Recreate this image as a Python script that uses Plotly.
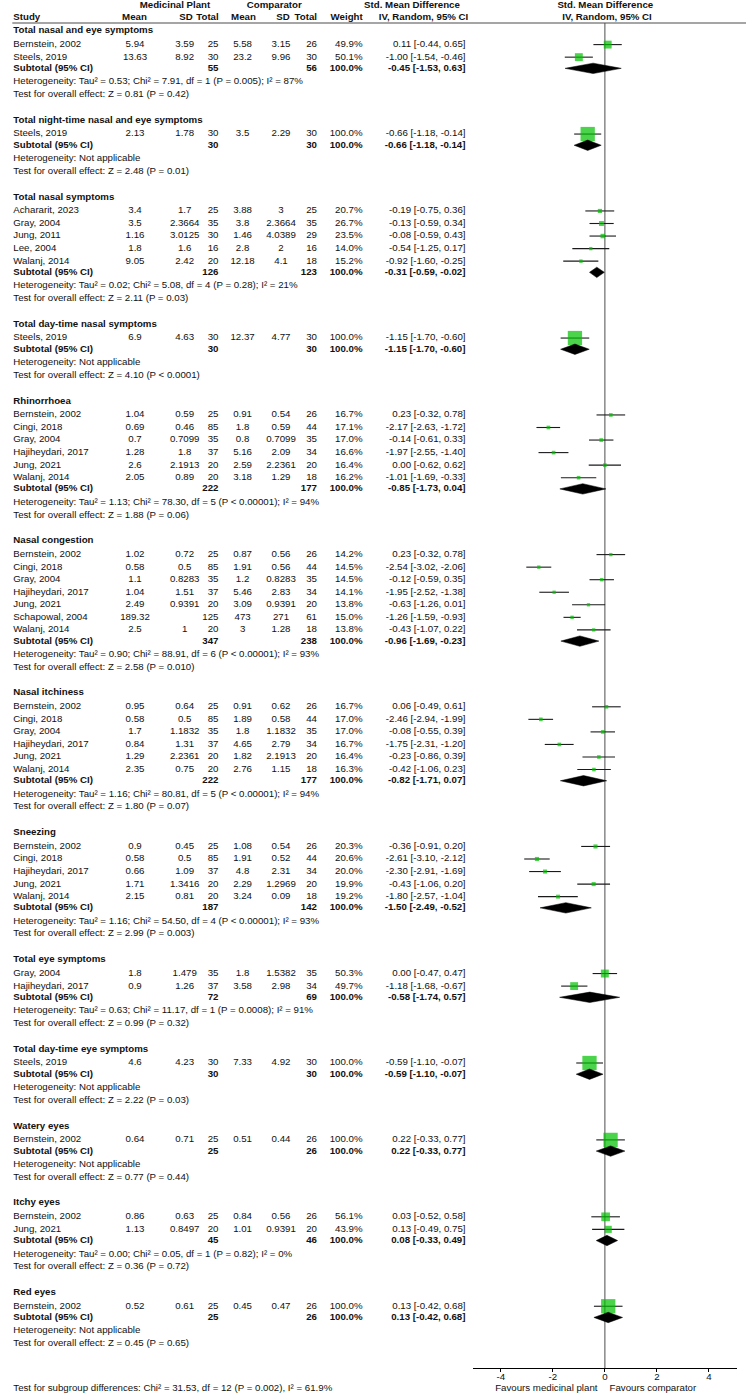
import plotly.graph_objects as go

# ------------------------------------------------------------------ data
group_titles = [
    "Total nasal and eye symptoms",
    "Total night-time nasal and eye symptoms",
    "Total nasal symptoms",
    "Total day-time nasal symptoms",
    "Rhinorrhoea",
    "Nasal congestion",
    "Nasal itchiness",
    "Sneezing",
    "Total eye symptoms",
    "Total day-time eye symptoms",
    "Watery eyes",
    "Itchy eyes",
    "Red eyes",
]

study_group = [0, 0,
               1,
               2, 2, 2, 2, 2,
               3,
               4, 4, 4, 4, 4, 4,
               5, 5, 5, 5, 5, 5, 5,
               6, 6, 6, 6, 6, 6,
               7, 7, 7, 7, 7,
               8, 8,
               9,
               10,
               11, 11,
               12]

study_names = [
    "Bernstein, 2002", "Steels, 2019",
    "Steels, 2019",
    "Achararit, 2023", "Gray, 2004", "Jung, 2011", "Lee, 2004", "Walanj, 2014",
    "Steels, 2019",
    "Bernstein, 2002", "Cingi, 2018", "Gray, 2004", "Hajiheydari, 2017", "Jung, 2021", "Walanj, 2014",
    "Bernstein, 2002", "Cingi, 2018", "Gray, 2004", "Hajiheydari, 2017", "Jung, 2021", "Schapowal, 2004", "Walanj, 2014",
    "Bernstein, 2002", "Cingi, 2018", "Gray, 2004", "Hajiheydari, 2017", "Jung, 2021", "Walanj, 2014",
    "Bernstein, 2002", "Cingi, 2018", "Hajiheydari, 2017", "Jung, 2021", "Walanj, 2014",
    "Gray, 2004", "Hajiheydari, 2017",
    "Steels, 2019",
    "Bernstein, 2002",
    "Bernstein, 2002", "Jung, 2021",
    "Bernstein, 2002",
]

mp_mean = ["5.94", "13.63", "2.13", "3.4", "3.5", "1.16", "1.8", "9.05", "6.9",
           "1.04", "0.69", "0.7", "1.28", "2.6", "2.05",
           "1.02", "0.58", "1.1", "1.04", "2.49", "189.32", "2.5",
           "0.95", "0.58", "1.7", "0.84", "1.29", "2.35",
           "0.9", "0.58", "0.66", "1.71", "2.15",
           "1.8", "0.9", "4.6", "0.64", "0.86", "1.13", "0.52"]
mp_sd = ["3.59", "8.92", "1.78", "1.7", "2.3664", "3.0125", "1.6", "2.42", "4.63",
         "0.59", "0.46", "0.7099", "1.8", "2.1913", "0.89",
         "0.72", "0.5", "0.8283", "1.51", "0.9391", "", "1",
         "0.64", "0.5", "1.1832", "1.31", "2.2361", "0.75",
         "0.45", "0.5", "1.09", "1.3416", "0.81",
         "1.479", "1.26", "4.23", "0.71", "0.63", "0.8497", "0.61"]
mp_total = [25, 30, 30, 25, 35, 30, 16, 20, 30,
            25, 85, 35, 37, 20, 20,
            25, 85, 35, 37, 20, 125, 20,
            25, 85, 35, 37, 20, 20,
            25, 85, 37, 20, 20,
            35, 37, 30, 25, 25, 20, 25]
cmp_mean = ["5.58", "23.2", "3.5", "3.88", "3.8", "1.46", "2.8", "12.18", "12.37",
            "0.91", "1.8", "0.8", "5.16", "2.59", "3.18",
            "0.87", "1.91", "1.2", "5.46", "3.09", "473", "3",
            "0.91", "1.89", "1.8", "4.65", "1.82", "2.76",
            "1.08", "1.91", "4.8", "2.29", "3.24",
            "1.8", "3.58", "7.33", "0.51", "0.84", "1.01", "0.45"]
cmp_sd = ["3.15", "9.96", "2.29", "3", "2.3664", "4.0389", "2", "4.1", "4.77",
          "0.54", "0.59", "0.7099", "2.09", "2.2361", "1.29",
          "0.56", "0.56", "0.8283", "2.83", "0.9391", "271", "1.28",
          "0.62", "0.58", "1.1832", "2.79", "2.1913", "1.15",
          "0.54", "0.52", "2.31", "1.2969", "0.09",
          "1.5382", "2.98", "4.92", "0.44", "0.56", "0.9391", "0.47"]
cmp_total = [26, 30, 30, 25, 35, 29, 16, 18, 30,
             26, 44, 35, 34, 20, 18,
             26, 44, 35, 34, 20, 61, 18,
             26, 44, 35, 34, 20, 18,
             26, 44, 34, 20, 18,
             35, 34, 30, 26, 26, 20, 26]
weight_pct = [49.9, 50.1, 100.0, 20.7, 26.7, 23.5, 14.0, 15.2, 100.0,
              16.7, 17.1, 17.0, 16.6, 16.4, 16.2,
              14.2, 14.5, 14.5, 14.1, 13.8, 15.0, 13.8,
              16.7, 17.0, 17.0, 16.7, 16.4, 16.3,
              20.3, 20.6, 20.0, 19.9, 19.2,
              50.3, 49.7, 100.0, 100.0, 56.1, 43.9, 100.0]
smd = [0.11, -1.00, -0.66, -0.19, -0.13, -0.08, -0.54, -0.92, -1.15,
       0.23, -2.17, -0.14, -1.97, 0.00, -1.01,
       0.23, -2.54, -0.12, -1.95, -0.63, -1.26, -0.43,
       0.06, -2.46, -0.08, -1.75, -0.23, -0.42,
       -0.36, -2.61, -2.30, -0.43, -1.80,
       0.00, -1.18, -0.59, 0.22, 0.03, 0.13, 0.13]
ci_low = [-0.44, -1.54, -1.18, -0.75, -0.59, -0.59, -1.25, -1.60, -1.70,
          -0.32, -2.63, -0.61, -2.55, -0.62, -1.69,
          -0.32, -3.02, -0.59, -2.52, -1.26, -1.59, -1.07,
          -0.49, -2.94, -0.55, -2.31, -0.86, -1.06,
          -0.91, -3.10, -2.91, -1.06, -2.57,
          -0.47, -1.68, -1.10, -0.33, -0.52, -0.49, -0.42]
ci_high = [0.65, -0.46, -0.14, 0.36, 0.34, 0.43, 0.17, -0.25, -0.60,
           0.78, -1.72, 0.33, -1.40, 0.62, -0.33,
           0.78, -2.06, 0.35, -1.38, 0.01, -0.93, 0.22,
           0.61, -1.99, 0.39, -1.20, 0.39, 0.23,
           0.20, -2.12, -1.69, 0.20, -1.04,
           0.47, -0.67, -0.07, 0.77, 0.58, 0.75, 0.68]

sub_mp_total = [55, 30, 126, 30, 222, 347, 222, 187, 72, 30, 25, 45, 25]
sub_cmp_total = [56, 30, 123, 30, 177, 238, 177, 142, 69, 30, 26, 46, 26]
sub_smd = [-0.45, -0.66, -0.31, -1.15, -0.85, -0.96, -0.82, -1.50, -0.58, -0.59, 0.22, 0.08, 0.13]
sub_low = [-1.53, -1.18, -0.59, -1.70, -1.73, -1.69, -1.71, -2.49, -1.74, -1.10, -0.33, -0.33, -0.42]
sub_high = [0.63, -0.14, -0.02, -0.60, 0.04, -0.23, 0.07, -0.52, 0.57, -0.07, 0.77, 0.49, 0.68]

het_tau2 = ["0.53", None, "0.02", None, "1.13", "0.90", "1.16", "1.16", "0.63", None, None, "0.00", None]
het_chi2 = ["7.91", None, "5.08", None, "78.30", "88.91", "80.81", "54.50", "11.17", None, None, "0.05", None]
het_df = [1, None, 4, None, 5, 6, 5, 4, 1, None, None, 1, None]
het_p = ["P = 0.005", None, "P = 0.28", None, "P < 0.00001", "P < 0.00001", "P < 0.00001",
         "P < 0.00001", "P = 0.0008", None, None, "P = 0.82", None]
het_i2 = ["87%", None, "21%", None, "94%", "93%", "94%", "93%", "91%", None, None, "0%", None]
overall_z = ["0.81", "2.48", "2.11", "4.10", "1.88", "2.58", "1.80", "2.99", "0.99", "2.22", "0.77", "0.36", "0.45"]
overall_p = ["P = 0.42", "P = 0.01", "P = 0.03", "P < 0.0001", "P = 0.06", "P = 0.010", "P = 0.07",
             "P = 0.003", "P = 0.32", "P = 0.03", "P = 0.44", "P = 0.72", "P = 0.65"]
subgroup_test = "Test for subgroup differences: Chi² = 31.53, df = 12 (P = 0.002), I² = 61.9%"
x_ticks = [-4, -2, 0, 2, 4]
favours_left = "Favours medicinal plant"
favours_right = "Favours comparator"

# ------------------------------------------------------------------ layout constants
W, H = 752, 1400
FONT = "Liberation Sans, Arial, sans-serif"
FS = 9.7
TXT = "#111111"
GREEN = "#00C000"

TOP = 30.8          # y of first group title (px from top)
FIRST = 13.8        # title -> first study
STEP = 12.55        # study -> study
SUBGAP = 11.2       # last study -> subtotal
HETGAP = 13.6       # subtotal -> heterogeneity
TESTGAP = 12.6      # heterogeneity -> overall test
GROUPGAP = 25.7     # overall test -> next title
HEAD1, HEAD2, HEADLINE = 5.6, 17.6, 23.0
AXIS_Y = 1368.0
FOOT_Y = 1389.0

X_LEFT = 13.3
X_MP_MEAN, X_MP_SD, X_MP_N = 135.0, 184.7, 218.5
X_C_MEAN, X_C_SD, X_C_N = 242.6, 281.0, 317.0
X_W = 362.5
X_EFF = 465.5
PLOT_L, PLOT_R = 472.7, 737.0
XR = [-5.08, 5.08]

# ------------------------------------------------------------------ row positions
study_y = [0.0] * len(study_names)
title_y, sub_y, het_y, test_y = [], [], [], []
y = TOP
for g in range(len(group_titles)):
    title_y.append(y)
    idx = [i for i, sg in enumerate(study_group) if sg == g]
    yy = y + FIRST
    for k, i in enumerate(idx):
        study_y[i] = yy + k * STEP
    s = study_y[idx[-1]] + SUBGAP
    sub_y.append(s)
    het_y.append(s + HETGAP)
    test_y.append(s + HETGAP + TESTGAP)
    y = s + HETGAP + TESTGAP + GROUPGAP

# ------------------------------------------------------------------ text items
tx, ty, tt, tp = [], [], [], []


def put(x, yv, text, pos, bold=False):
    if text is None or text == "":
        return
    tx.append(x)
    ty.append(yv)
    tt.append("<b>%s</b>" % text if bold else text)
    tp.append(pos)


L, C, R = "middle right", "middle center", "middle left"

# headers
put(175.0, HEAD1, "Medicinal Plant", C, True)
put(274.3, HEAD1, "Comparator", C, True)
put(412.0, HEAD1, "Std. Mean Difference", C, True)
put(605.3, HEAD1, "Std. Mean Difference", C, True)
put(X_LEFT, HEAD2, "Study", L, True)
put(134.5, HEAD2, "Mean", C, True)
put(186.0, HEAD2, "SD", C, True)
put(218.7, HEAD2, "Total", R, True)
put(243.5, HEAD2, "Mean", C, True)
put(283.0, HEAD2, "SD", C, True)
put(317.0, HEAD2, "Total", R, True)
put(362.7, HEAD2, "Weight", R, True)
put(423.5, HEAD2, "IV, Random, 95% CI", C, True)
put(607.0, HEAD2, "IV, Random, 95% CI", C, True)


def eff(v, lo, hi):
    return "%.2f [%.2f, %.2f]" % (v, lo, hi)


for g, title in enumerate(group_titles):
    put(X_LEFT, title_y[g], title, L, True)
    put(X_LEFT, sub_y[g], "Subtotal (95% CI)", L, True)
    put(X_MP_N, sub_y[g], str(sub_mp_total[g]), R, True)
    put(X_C_N, sub_y[g], str(sub_cmp_total[g]), R, True)
    put(X_W, sub_y[g], "100.0%", R, True)
    put(X_EFF, sub_y[g], eff(sub_smd[g], sub_low[g], sub_high[g]), R, True)
    if het_tau2[g] is None:
        het = "Heterogeneity: Not applicable"
    else:
        het = "Heterogeneity: Tau² = %s; Chi² = %s, df = %d (%s); I² = %s" % (
            het_tau2[g], het_chi2[g], het_df[g], het_p[g], het_i2[g])
    put(X_LEFT, het_y[g], het, L)
    put(X_LEFT, test_y[g], "Test for overall effect: Z = %s (%s)" % (overall_z[g], overall_p[g]), L)

for i, name in enumerate(study_names):
    yv = study_y[i]
    put(X_LEFT, yv, name, L)
    put(X_MP_MEAN, yv, mp_mean[i], C)
    put(X_MP_SD, yv, mp_sd[i], C)
    put(X_MP_N, yv, str(mp_total[i]), R)
    put(X_C_MEAN, yv, cmp_mean[i], C)
    put(X_C_SD, yv, cmp_sd[i], C)
    put(X_C_N, yv, str(cmp_total[i]), R)
    put(X_W, yv, "%.1f%%" % weight_pct[i], R)
    put(X_EFF, yv, eff(smd[i], ci_low[i], ci_high[i]), R)

put(X_LEFT, FOOT_Y, subgroup_test, L)
put(597.5, FOOT_Y, favours_left, R)
put(609.5, FOOT_Y, favours_right, L)

# ------------------------------------------------------------------ figure
fig = go.Figure()

# study confidence intervals
lx, ly = [], []
for i in range(len(smd)):
    lx += [ci_low[i], ci_high[i], None]
    ly += [study_y[i], study_y[i], None]
fig.add_trace(go.Scatter(x=lx, y=ly, mode="lines", line=dict(color="#1a1a1a", width=1.1),
                         xaxis="x", yaxis="y", hoverinfo="skip", showlegend=False))

# study squares (size proportional to weight)
fig.add_trace(go.Scatter(x=smd, y=study_y, mode="markers",
                         marker=dict(symbol="square", color=GREEN,
                                     size=[1.5 + 0.128 * w for w in weight_pct],
                                     line=dict(width=0)),
                         xaxis="x", yaxis="y", hoverinfo="skip", showlegend=False))

# subtotal diamonds
DH = 5.2
for g in range(len(group_titles)):
    yc = sub_y[g]
    fig.add_trace(go.Scatter(
        x=[sub_low[g], sub_smd[g], sub_high[g], sub_smd[g], sub_low[g]],
        y=[yc, yc - DH, yc, yc + DH, yc],
        mode="lines", fill="toself", fillcolor="#000000",
        line=dict(color="#000000", width=0.5),
        xaxis="x", yaxis="y", hoverinfo="skip", showlegend=False))

# all text
fig.add_trace(go.Scatter(x=tx, y=ty, text=tt, textposition=tp, mode="text",
                         textfont=dict(family=FONT, size=FS, color=TXT),
                         xaxis="x2", yaxis="y", hoverinfo="skip", showlegend=False,
                         cliponaxis=False))

# zero line and header rule
fig.add_shape(type="line", xref="x", yref="y", x0=0, x1=0, y0=HEADLINE, y1=AXIS_Y,
              line=dict(color="#7f7f7f", width=1.4), layer="below")
fig.add_shape(type="line", xref="x2", yref="y", x0=X_LEFT - 1, x1=746, y0=HEADLINE, y1=HEADLINE,
              line=dict(color="#4d4d4d", width=1.2))

fig.update_layout(
    width=W, height=H,
    margin=dict(l=0, r=0, t=0, b=0),
    paper_bgcolor="white", plot_bgcolor="rgba(0,0,0,0)",
    font=dict(family=FONT, size=FS, color=TXT),
    showlegend=False,
    xaxis=dict(domain=[PLOT_L / W, PLOT_R / W], range=XR, anchor="free",
               position=1 - AXIS_Y / H, showline=True, linecolor="#000000", linewidth=1,
               ticks="outside", ticklen=3, tickcolor="#000000", tickwidth=1,
               ticklabelstandoff=-4,
               tickvals=x_ticks, ticktext=[str(v) for v in x_ticks],
               tickfont=dict(family=FONT, size=FS, color=TXT),
               showgrid=False, zeroline=False, fixedrange=True),
    xaxis2=dict(domain=[0, 1], range=[0, W], anchor="y", visible=False,
                showgrid=False, zeroline=False, fixedrange=True),
    yaxis=dict(domain=[0, 1], range=[H, 0], anchor="x", visible=False,
               showgrid=False, zeroline=False, fixedrange=True),
)

fig.write_html("out.html", config={"displayModeBar": False},
               post_script="document.body.style.margin='0';")
